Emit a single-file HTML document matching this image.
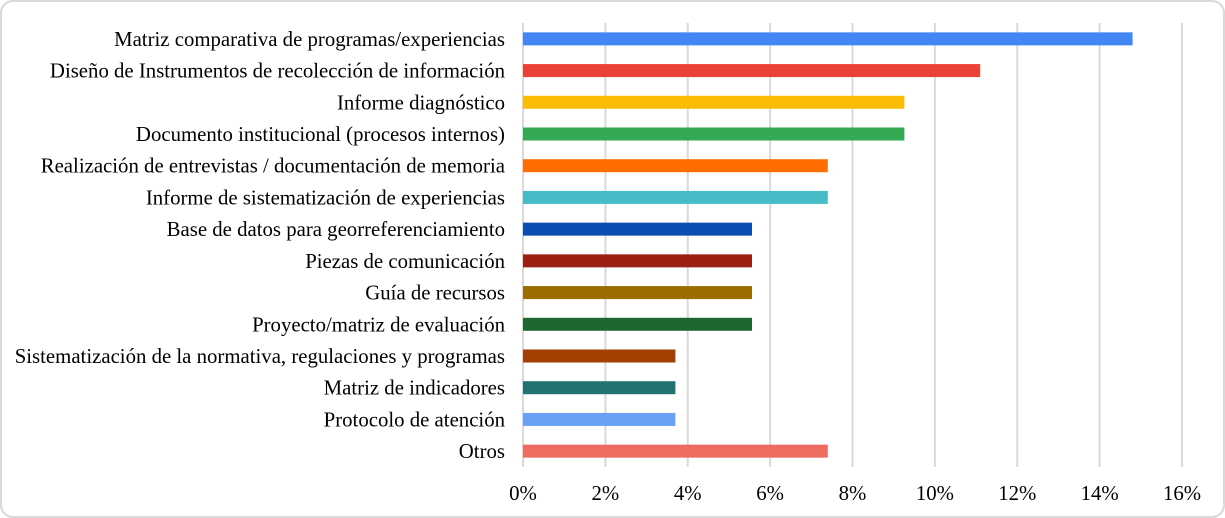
<!DOCTYPE html>
<html><head><meta charset="utf-8"><style>
html,body{margin:0;padding:0;background:#fff;}
svg{display:block;font-family:"Liberation Serif",serif;}
</style></head><body>
<svg id="chart" width="1225" height="518">
<rect x="1" y="1" width="1223" height="516" rx="12" ry="12" fill="#fff" stroke="#d9d9d9" stroke-width="2"/>
<g id="grid"></g><g id="bars"></g><g id="labels"></g><g id="ticks"></g>
</svg>
<script>
const categories = ["Matriz comparativa de programas/experiencias","Diseño de Instrumentos de recolección de información","Informe diagnóstico","Documento institucional (procesos internos)","Realización de entrevistas / documentación de memoria","Informe de sistematización de experiencias","Base de datos para georreferenciamiento","Piezas de comunicación","Guía de recursos","Proyecto/matriz de evaluación","Sistematización de la normativa, regulaciones y programas","Matriz de indicadores","Protocolo de atención","Otros"];
const values = [14.8,11.1,9.26,9.26,7.4,7.4,5.56,5.56,5.56,5.56,3.7,3.7,3.7,7.4];
const colors = ["#4285f4","#ea4335","#fbbc04","#34a853","#ff6d01","#46bdc6","#0b4eb3","#9c1f14","#9a6d00","#1f6631","#a33f00","#227272","#6aa1f5","#ee6b61"];
const ticks = [0,2,4,6,8,10,12,14,16];
const NS="http://www.w3.org/2000/svg";
const x0=523, x1=1182, y0=23, y1=467, xmax=16;
const xs=v=>x0+(v/xmax)*(x1-x0);
const band=(y1-y0)/categories.length;
const yc=i=>y0+band*(i+0.5);
function mk(t,a,p){const e=document.createElementNS(NS,t);for(const k in a)e.setAttribute(k,a[k]);p.appendChild(e);return e;}
const G=document.getElementById('grid'),B=document.getElementById('bars'),L=document.getElementById('labels'),T=document.getElementById('ticks');
ticks.forEach(t=>{
  const l=mk('line',{x1:xs(t),x2:xs(t),y1:y0,y2:y1,stroke:'#d9d9d9','stroke-width':2},G);
  
  
  const tx=mk('text',{x:xs(t),y:500,'text-anchor':'middle','font-size':20.8,fill:'#000'},T);
  tx.textContent=t+'%';
  
  
});
categories.forEach((c,i)=>{
  const r=mk('rect',{x:x0,y:yc(i)-6.5,width:xs(values[i])-x0,height:13,fill:colors[i]},B);
  
  
  const tx=mk('text',{x:505,y:yc(i)+7,'text-anchor':'end','font-size':20.8,fill:'#000'},L);
  tx.textContent=c;
  
  
});
</script>
</body></html>
